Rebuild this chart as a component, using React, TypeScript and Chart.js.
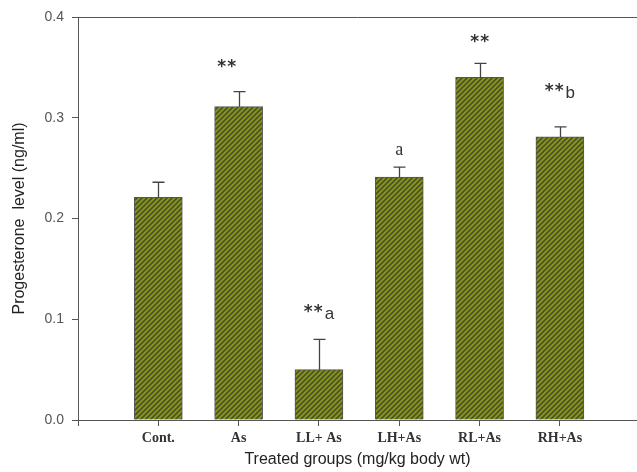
import { useEffect, useRef } from 'react';
import { Chart, registerables } from 'chart.js';

Chart.register(...registerables);

const categories = ['Cont.', 'As', 'LL+ As', 'LH+As', 'RL+As', 'RH+As'];
const means = [0.221, 0.311, 0.05, 0.241, 0.34, 0.281];
const errors = [0.015, 0.015, 0.03, 0.01, 0.014, 0.01];
const marks = ['', '**', '**', 'a', '**', '**'];
const subscripts = ['', '', 'a', '', '', 'b'];
const markY = [null, 0.354, 0.111, 0.268, 0.379, 0.33];
const yTicks = [0, 0.1, 0.2, 0.3, 0.4];

const AXIS = '#555555';

function makePattern(): CanvasPattern | string {
  const s = 5;
  const c = document.createElement('canvas');
  c.width = s;
  c.height = s;
  const g = c.getContext('2d');
  if (!g) return '#7d8a14';
  g.fillStyle = '#84931a';
  g.fillRect(0, 0, s, s);
  g.strokeStyle = '#474a2c';
  g.lineWidth = 1.5;
  g.beginPath();
  g.moveTo(-1, s + 1);
  g.lineTo(s + 1, -1);
  g.moveTo(-1, 1);
  g.lineTo(1, -1);
  g.moveTo(s - 1, s + 1);
  g.lineTo(s + 1, s - 1);
  g.stroke();
  const p = g.createPattern(c, 'repeat');
  return p || '#7d8a14';
}

const STAR_FONT = 'bold 17px "DejaVu Sans"';
const LETTER_FONT = '18px "Liberation Serif"';
const SUB_FONT = '17px "Liberation Sans"';
const STAR_GAP = 10;

const extrasPlugin = {
  id: 'extras',
  afterDatasetsDraw(chart: any) {
    const { ctx, chartArea, scales } = chart;
    const ys = scales.y;
    const meta = chart.getDatasetMeta(0);
    ctx.save();
    // top frame line
    ctx.strokeStyle = AXIS;
    ctx.lineWidth = 1;
    ctx.beginPath();
    ctx.moveTo(chartArea.left, Math.round(chartArea.top) + 0.5);
    ctx.lineTo(chartArea.right, Math.round(chartArea.top) + 0.5);
    ctx.stroke();
    // error bars
    ctx.strokeStyle = '#444444';
    ctx.lineWidth = 1.3;
    meta.data.forEach((el: any, i: number) => {
      const x = Math.round(el.x) + 0.5;
      const yTop = ys.getPixelForValue(means[i] + errors[i]);
      ctx.beginPath();
      ctx.moveTo(x, el.y);
      ctx.lineTo(x, yTop);
      ctx.moveTo(x - 6, yTop);
      ctx.lineTo(x + 6, yTop);
      ctx.stroke();
    });
    // significance marks
    ctx.fillStyle = '#333333';
    ctx.textBaseline = 'middle';
    meta.data.forEach((el: any, i: number) => {
      const v = markY[i];
      if (v === null || !marks[i]) return;
      const y = ys.getPixelForValue(v);
      const isStar = marks[i].startsWith('*');
      const dx = i === 1 ? -12 : 0;
      if (isStar) {
        const n = marks[i].length;
        ctx.font = STAR_FONT;
        const sw = ctx.measureText('*').width;
        const w1 = (n - 1) * STAR_GAP + sw;
        ctx.font = SUB_FONT;
        const w2 = subscripts[i] ? ctx.measureText(subscripts[i]).width + 2 : 0;
        const x0 = el.x + dx - (w1 + w2) / 2;
        ctx.textAlign = 'left';
        ctx.font = STAR_FONT;
        for (let k = 0; k < n; k++) {
          ctx.fillText('*', x0 + k * STAR_GAP, y + 4);
        }
        if (subscripts[i]) {
          ctx.font = SUB_FONT;
          ctx.fillText(subscripts[i], x0 + w1 + 2, y + 6);
        }
      } else {
        ctx.font = LETTER_FONT;
        ctx.textAlign = 'center';
        ctx.fillText(marks[i], el.x + dx, y);
      }
    });
    ctx.restore();
  },
};

export default function App() {
  const ref = useRef<HTMLCanvasElement>(null);

  useEffect(() => {
    if (!ref.current) return;
    const pattern = makePattern();
    const chart = new Chart(ref.current, {
      type: 'bar',
      data: {
        datasets: [
          {
            data: categories.map((_, i) => ({ x: i + 1, y: means[i] })),
            backgroundColor: pattern as any,
            borderColor: '#555555',
            borderWidth: 1,
            barThickness: 48,
          },
        ],
      },
      options: {
        responsive: false,
        animation: false,
        devicePixelRatio: 1,
        layout: { padding: { top: 17, right: 0, left: 0, bottom: 0 } },
        plugins: {
          legend: { display: false },
          tooltip: { enabled: false },
        },
        scales: {
          x: {
            type: 'linear',
            min: 0,
            max: 6.96,
            offset: false,
            afterFit: (s: any) => {
              s.height = 52;
            },
            afterBuildTicks: (s: any) => {
              s.ticks = [0, 1, 2, 3, 4, 5, 6].map((v) => ({ value: v }));
            },
            grid: {
              offset: false,
              drawOnChartArea: false,
              drawTicks: true,
              tickLength: 6,
              tickColor: AXIS,
              color: AXIS,
            },
            border: { display: true, color: AXIS, width: 1 },
            ticks: {
              autoSkip: false,
              maxRotation: 0,
              padding: 4,
              color: '#333333',
              font: { family: '"Liberation Serif"', size: 14, weight: 'bold' },
              callback: (v: any) => {
                const n = Number(v);
                return n >= 1 && n <= 6 ? categories[n - 1] : '';
              },
            },
            title: {
              display: true,
              text: 'Treated groups (mg/kg body wt)',
              color: '#222222',
              font: { family: '"Liberation Sans"', size: 16 },
              padding: { top: 0, bottom: 3 },
            },
          },
          y: {
            min: 0,
            max: 0.4,
            afterFit: (s: any) => {
              s.width = 78;
            },
            afterBuildTicks: (s: any) => {
              s.ticks = yTicks.map((v) => ({ value: v }));
            },
            grid: {
              drawOnChartArea: false,
              drawTicks: true,
              tickLength: 6,
              tickColor: AXIS,
              color: AXIS,
            },
            border: { display: true, color: AXIS, width: 1 },
            ticks: {
              padding: 8,
              color: '#555555',
              font: { family: '"Liberation Sans"', size: 14 },
              callback: (v: any) => Number(v).toFixed(1),
            },
            title: {
              display: true,
              text: 'Progesterone  level (ng/ml)',
              color: '#222222',
              font: { family: '"Liberation Sans"', size: 16 },
              padding: { top: 10, bottom: 0 },
            },
          },
        },
      },
      plugins: [extrasPlugin],
    });
    return () => chart.destroy();
  }, []);

  return (
    <div style={{ position: 'fixed', left: 0, top: 0, width: 637, height: 472, background: '#ffffff' }}>
      <canvas ref={ref} width={637} height={472} style={{ display: 'block' }} />
    </div>
  );
}
